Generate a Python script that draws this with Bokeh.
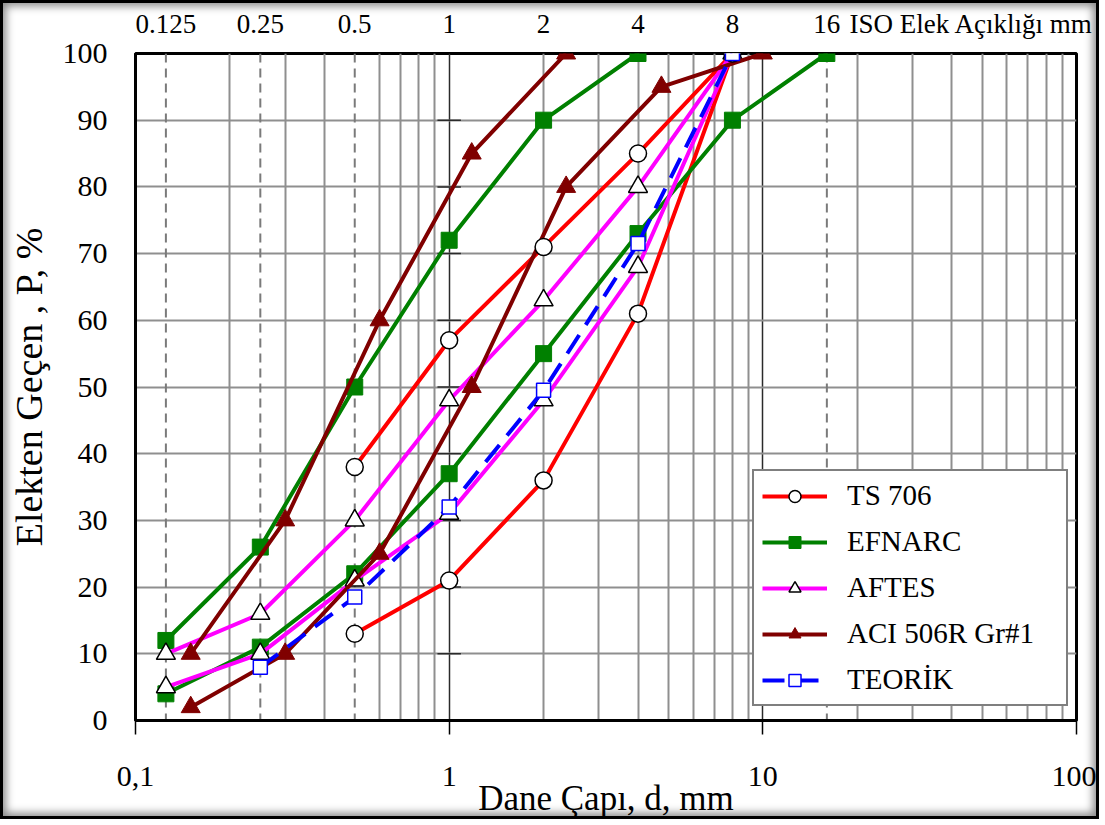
from bokeh.plotting import figure
from bokeh.models import FixedTicker, LogAxis, Span, Legend, LegendItem
from bokeh.embed import file_html
from bokeh.resources import INLINE

# ---- data ----
ts706_d = [0.5, 1, 2, 4, 8, 4, 2, 1, 0.5]
ts706_p = [13, 21, 36, 61, 100, 85, 71, 57, 38]

efnarc_lo_d = [0.125, 0.25, 0.5, 1, 2, 4, 8, 16]
efnarc_lo_p = [4, 11, 22, 37, 55, 73, 90, 100]
efnarc_hi_d = [4, 2, 1, 0.5, 0.25, 0.125]
efnarc_hi_p = [100, 90, 72, 50, 26, 12]

aftes_d = [0.125, 0.25, 0.5, 1, 2, 4, 8, 4, 2, 1, 0.5, 0.25, 0.125]
aftes_p = [5, 10, 21, 31, 48, 68, 100, 80, 63, 48, 30, 16, 10]

aci_lo_d = [0.15, 0.3, 0.6, 1.18, 2.36, 4.75, 10]
aci_lo_p = [2, 10, 25, 50, 80, 95, 100]
aci_hi_d = [2.36, 1.18, 0.6, 0.3, 0.15]
aci_hi_p = [100, 85, 60, 30, 10]

teorik_d = [0.25, 0.5, 1, 2, 4, 8]
teorik_p = [8, 18.5, 32, 49.5, 71.5, 100]

sieve_sizes = [0.125, 0.25, 0.5, 1, 2, 4, 8, 16]
sieve_labels = ["0.125", "0.25", "0.5", "1", "2", "4", "8", "16"]
iso_title_pos = 46.2
iso_title = "ISO Elek Açıklığı mm"
dashed_sieves = [0.125, 0.25, 0.5, 16]
decade_ticks = [0.1, 1, 10, 100]
decade_labels = ["0,1", "1", "10", "100"]
y_ticks = list(range(0, 101, 10))

FONT = "Liberation Serif"

p = figure(width=1099, height=819, x_axis_type="log", x_range=(0.1, 100), y_range=(0, 100),
           output_backend="svg", toolbar_location=None,
           min_border_left=132, min_border_right=26, min_border_top=50, min_border_bottom=102)
p.styles = {"border": "3px solid black", "box-shadow": "inset 0 0 9px 3px #8a8a8a",
            "background-color": "white"}
p.border_fill_alpha = 0
p.background_fill_color = "white"
p.outline_line_color = "black"
p.outline_line_width = 3

minor_grid = [m * 10.0 ** e for e in (-1, 0, 1) for m in range(2, 10)]
minor_grid = [v for v in minor_grid if all(abs(v - s) > 1e-9 for s in dashed_sieves)]

xax = p.xaxis[0]
xax.ticker = FixedTicker(ticks=decade_ticks, minor_ticks=minor_grid)
xax.major_label_overrides = {t: l for t, l in zip(decade_ticks, decade_labels)}
xax.major_tick_out = 14
xax.major_tick_in = 0
xax.minor_tick_out = 0
xax.minor_tick_in = 0
xax.major_tick_line_width = 1.5
xax.axis_line_width = 3
xax.major_label_standoff = 32
xax.major_label_text_font = FONT
xax.major_label_text_font_size = "30px"
xax.major_label_text_color = "black"
xax.axis_label = "Dane Çapı, d, mm"
xax.axis_label_text_font = FONT
xax.axis_label_text_font_size = "35px"
xax.axis_label_text_font_style = "normal"
xax.axis_label_text_color = "black"
xax.axis_label_standoff = -10

yax = p.yaxis[0]
yax.ticker = FixedTicker(ticks=y_ticks)
yax.major_tick_out = 0
yax.major_tick_in = 0
yax.minor_tick_out = 0
yax.minor_tick_in = 0
yax.axis_line_width = 3
yax.major_label_standoff = 28
yax.major_label_text_font = FONT
yax.major_label_text_font_size = "30px"
yax.major_label_text_color = "black"
yax.axis_label = "Elekten Geçen , P, %"
yax.axis_label_text_font = FONT
yax.axis_label_text_font_size = "38px"
yax.axis_label_text_font_style = "normal"
yax.axis_label_text_color = "black"
yax.axis_label_standoff = 10

top_ticks = sieve_sizes + [iso_title_pos]
top_labels = sieve_labels + [iso_title]
top = LogAxis(ticker=FixedTicker(ticks=top_ticks),
              major_label_overrides={t: l for t, l in zip(top_ticks, top_labels)})
top.major_tick_out = 0
top.major_tick_in = 0
top.minor_tick_out = 0
top.minor_tick_in = 0
top.axis_line_color = None
top.major_label_standoff = 15
top.major_label_text_font = FONT
top.major_label_text_font_size = "27px"
top.major_label_text_color = "black"
p.add_layout(top, "above")

p.xgrid.ticker = xax.ticker
p.xgrid.grid_line_color = "#2a2a2a"
p.xgrid.grid_line_width = 1.5
p.xgrid.minor_grid_line_color = "#8f8f8f"
p.xgrid.minor_grid_line_width = 2
p.ygrid.ticker = yax.ticker
p.ygrid.grid_line_color = "#8f8f8f"
p.ygrid.grid_line_width = 2

for s in dashed_sieves:
    p.add_layout(Span(location=s, dimension="height", line_color="#7a7a7a", line_width=2,
                      line_dash="9 6", level="underlay"))

# small tick marks on the d = 1 line
inner = y_ticks[1:-1]
p.segment(x0=[1 / 1.09] * len(inner), x1=[1.09] * len(inner), y0=inner, y1=inner,
          line_color="#2a2a2a", line_width=1.5)

LW = 4
RED, GREEN, MAG, DRED, BLUE = "#ff0000", "#008000", "#ff00ff", "#800000", "#0000ff"

r_ts_l = p.line(ts706_d, ts706_p, line_color=RED, line_width=LW)
r_ef_l1 = p.line(efnarc_lo_d, efnarc_lo_p, line_color=GREEN, line_width=LW)
r_ef_l2 = p.line(efnarc_hi_d, efnarc_hi_p, line_color=GREEN, line_width=LW)
r_ef_m1 = p.scatter(efnarc_lo_d, efnarc_lo_p, marker="square", size=16, fill_color=GREEN, line_color=GREEN)
r_ef_m2 = p.scatter(efnarc_hi_d, efnarc_hi_p, marker="square", size=16, fill_color=GREEN, line_color=GREEN)
r_af_l = p.line(aftes_d, aftes_p, line_color=MAG, line_width=LW)
r_af_m = p.scatter(aftes_d, aftes_p, marker="triangle", size=19, fill_color="white",
                   line_color="black", line_width=1.5)
r_ac_l1 = p.line(aci_lo_d, aci_lo_p, line_color=DRED, line_width=LW)
r_ac_l2 = p.line(aci_hi_d, aci_hi_p, line_color=DRED, line_width=LW)
r_ac_m1 = p.scatter(aci_lo_d, aci_lo_p, marker="triangle", size=19, fill_color=DRED, line_color=DRED)
r_ac_m2 = p.scatter(aci_hi_d, aci_hi_p, marker="triangle", size=19, fill_color=DRED, line_color=DRED)
r_ts_m = p.scatter(ts706_d, ts706_p, marker="circle", size=17, fill_color="white",
                   line_color="black", line_width=1.5)
r_te_l = p.line(teorik_d, teorik_p, line_color=BLUE, line_width=LW, line_dash="22 12")
r_te_m = p.scatter(teorik_d, teorik_p, marker="square", size=14, fill_color="white",
                   line_color=BLUE, line_width=1.5)

legend = Legend(items=[
    LegendItem(label="TS 706", renderers=[r_ts_l, r_ts_m]),
    LegendItem(label="EFNARC", renderers=[r_ef_l1, r_ef_m1]),
    LegendItem(label="AFTES", renderers=[r_af_l, r_af_m]),
    LegendItem(label="ACI 506R Gr#1", renderers=[r_ac_l1, r_ac_m1]),
    LegendItem(label="TEORİK", renderers=[r_te_l, r_te_m]),
], location=(617, 14))
legend.padding = 8
legend.spacing = 13
legend.glyph_width = 65
legend.glyph_height = 30
legend.label_standoff = 20
legend.label_width = 211
legend.margin = 0
legend.label_text_font = FONT
legend.label_text_font_size = "29px"
legend.label_text_color = "black"
legend.border_line_color = "black"
legend.border_line_width = 2
legend.background_fill_color = "white"
legend.background_fill_alpha = 1
p.add_layout(legend)

open("out.html", "w").write(file_html(p, INLINE))
